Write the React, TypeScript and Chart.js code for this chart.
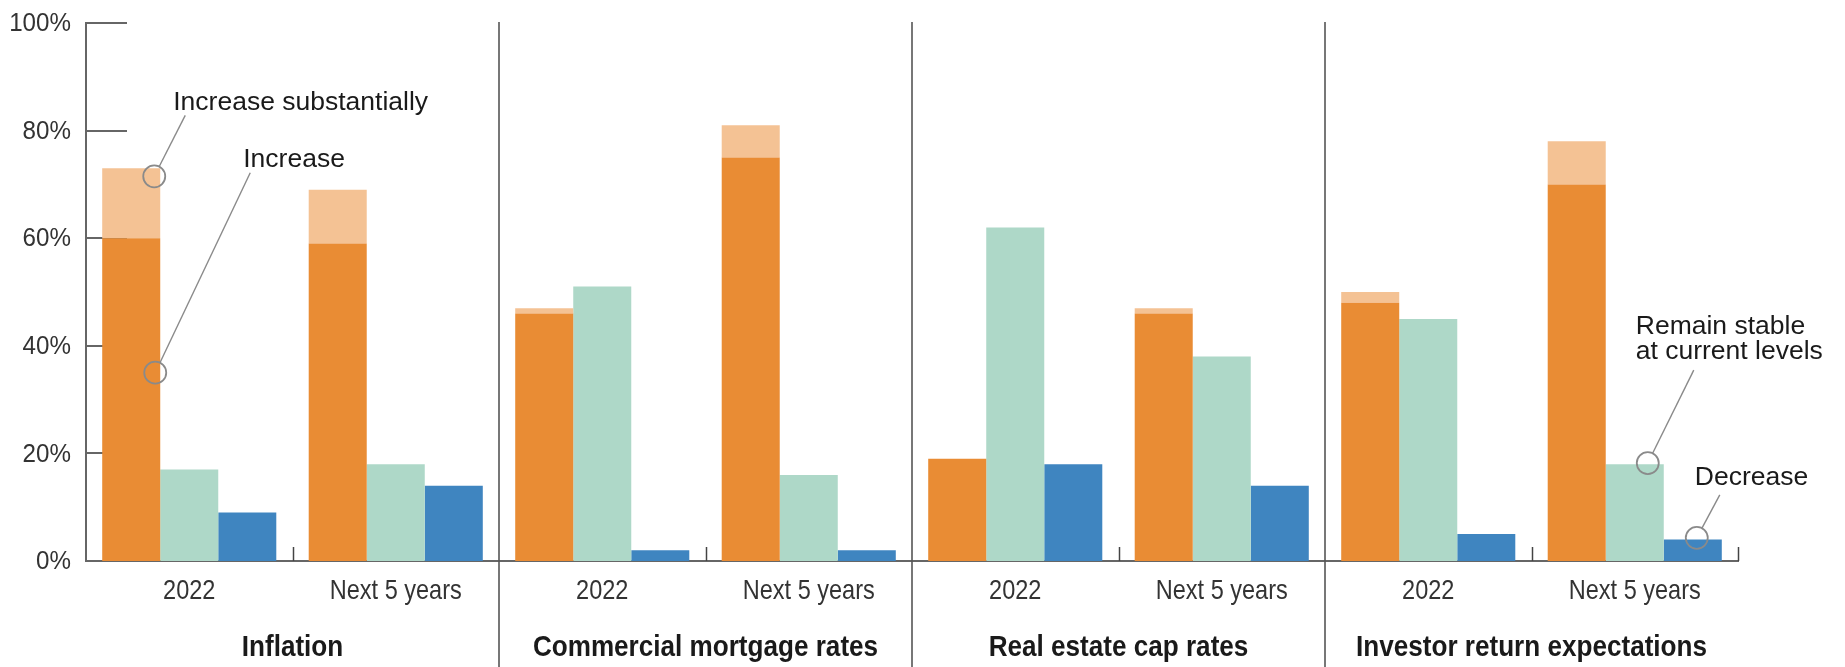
import React, { useEffect, useRef } from "react";
import { Chart, registerables } from "chart.js";

Chart.register(...registerables);

const categories = ["2022", "Next 5 years", "2022", "Next 5 years", "2022", "Next 5 years", "2022", "Next 5 years"];
const groups = ["Inflation", "Commercial mortgage rates", "Real estate cap rates", "Investor return expectations"];
const increase = [60, 59, 46, 75, 19, 46, 48, 70];
const increaseSubstantially = [13, 10, 1, 6, 0, 1, 2, 8];
const remainStable = [17, 18, 51, 16, 62, 38, 45, 18];
const decrease = [9, 14, 2, 2, 18, 14, 5, 4];
const yTicks = [0, 20, 40, 60, 80, 100];

const REG = "'Liberation Sans', Arial, sans-serif";
const AXIS = "#666666";

// draws text horizontally condensed (the reference uses a condensed face)
function condText(ctx: any, text: string, x: number, y: number, sx: number, align: string) {
  ctx.save();
  ctx.translate(x, y);
  ctx.scale(sx, 1);
  ctx.textAlign = align;
  ctx.textBaseline = "middle";
  ctx.fillText(text, 0, 0);
  ctx.restore();
}

const overlayPlugin = {
  id: "overlay",
  beforeDatasetsDraw(chart: any) {
    const { ctx, chartArea, scales } = chart;
    const y = scales.y;
    ctx.save();
    ctx.strokeStyle = AXIS;
    ctx.lineWidth = 2;
    yTicks.forEach((v) => {
      const py = Math.round(y.getPixelForValue(v));
      ctx.beginPath();
      ctx.moveTo(chartArea.left, py);
      ctx.lineTo(chartArea.left + 41, py);
      ctx.stroke();
    });
    ctx.restore();
  },
  afterDatasetsDraw(chart: any) {
    const { ctx, chartArea, scales } = chart;
    const y = scales.y;
    const x = scales.x;
    const x2 = scales.x2;
    const n = categories.length;
    const step = x.getPixelForValue(1) - x.getPixelForValue(0);
    ctx.save();
    // boundary ticks (inward)
    ctx.strokeStyle = "#444444";
    ctx.lineWidth = 1.5;
    for (let i = 1; i <= n; i++) {
      const px = Math.round(x.getPixelForValue(i - 1) + step / 2) + 0.5;
      if (i % 2 === 1 || i === n) {
        ctx.beginPath();
        ctx.moveTo(px, chartArea.bottom);
        ctx.lineTo(px, chartArea.bottom - 14);
        ctx.stroke();
      }
    }
    // group dividers
    ctx.strokeStyle = "#555555";
    ctx.lineWidth = 1.6;
    for (let g = 1; g < groups.length; g++) {
      const px = Math.round(x.getPixelForValue(2 * g - 1) + step / 2);
      ctx.beginPath();
      ctx.moveTo(px, chartArea.top - 1);
      ctx.lineTo(px, chart.height);
      ctx.stroke();
    }

    // axis labels (condensed)
    ctx.fillStyle = "#333333";
    ctx.font = `26px ${REG}`;
    y.ticks.forEach((t: any) => {
      condText(ctx, t.value + "%", chartArea.left - 15, y.getPixelForValue(t.value) + 1, 0.93, "right");
    });
    ctx.font = `28px ${REG}`;
    categories.forEach((c, i) => {
      condText(ctx, c, x.getPixelForValue(i), chartArea.bottom + 30, 0.84, "center");
    });
    ctx.fillStyle = "#1a1a1a";
    ctx.font = `bold 30px ${REG}`;
    groups.forEach((g, i) => {
      condText(ctx, g, x2.getPixelForValue(i), chartArea.bottom + 87, 0.87, "center");
    });

    // annotations
    const bar = (ds: number, i: number) => chart.getDatasetMeta(ds).data[i];
    const drawCallout = (cx: number, cy: number, tx: number, ty: number) => {
      const r = 11;
      const dx = tx - cx, dy = ty - cy;
      const len = Math.sqrt(dx * dx + dy * dy);
      ctx.strokeStyle = "#8a8a8a";
      ctx.lineWidth = 1.8;
      ctx.beginPath();
      ctx.arc(cx, cy, r, 0, Math.PI * 2);
      ctx.stroke();
      ctx.lineWidth = 1.4;
      ctx.beginPath();
      ctx.moveTo(cx + (dx / len) * r, cy + (dy / len) * r);
      ctx.lineTo(tx, ty);
      ctx.stroke();
    };
    ctx.fillStyle = "#1a1a1a";
    ctx.font = `26.5px ${REG}`;
    ctx.textAlign = "left";
    ctx.textBaseline = "middle";

    const b0 = bar(0, 0);
    const c1x = b0.x + b0.width / 2 - 6;
    const c1y = y.getPixelForValue(71.5);
    drawCallout(c1x, c1y, c1x + 31, c1y - 61);
    ctx.fillText("Increase substantially", c1x + 19, c1y - 74);

    const c2x = b0.x + b0.width / 2 - 5;
    const c2y = y.getPixelForValue(35);
    drawCallout(c2x, c2y, c2x + 95, c2y - 200);
    ctx.fillText("Increase", c2x + 88, c2y - 213);

    const b3 = bar(2, 7);
    const c3x = b3.x + b3.width / 2 - 16;
    const c3y = y.getPixelForValue(18.2);
    drawCallout(c3x, c3y, c3x + 46, c3y - 93);
    ctx.fillText("Remain stable", c3x - 12, c3y - 136);
    ctx.fillText("at current levels", c3x - 12, c3y - 111);

    const b4 = bar(3, 7);
    const c4x = b4.x + 4;
    const c4y = y.getPixelForValue(4.3);
    drawCallout(c4x, c4y, c4x + 23, c4y - 43);
    ctx.fillText("Decrease", c4x - 2, c4y - 60);
    ctx.restore();
  },
};

export default function App() {
  const ref = useRef<HTMLCanvasElement>(null);
  useEffect(() => {
    document.body.style.margin = "0";
    const chart = new Chart(ref.current!, {
      type: "bar",
      data: {
        labels: categories,
        datasets: [
          { label: "Increase", data: increase, backgroundColor: "#E98C34", stack: "inc" },
          { label: "Increase substantially", data: increaseSubstantially, backgroundColor: "#F4C294", stack: "inc" },
          { label: "Remain stable at current levels", data: remainStable, backgroundColor: "#AED8C8", stack: "stable" },
          { label: "Decrease", data: decrease, backgroundColor: "#3F85C0", stack: "dec" },
        ],
      },
      options: {
        responsive: false,
        animation: false,
        events: [],
        datasets: { bar: { categoryPercentage: 0.843, barPercentage: 1, borderWidth: 0 } },
        layout: { padding: { top: 23, right: 107, left: 0, bottom: 0 } },
        plugins: { legend: { display: false }, tooltip: { enabled: false } },
        scales: {
          x: {
            type: "category",
            offset: true,
            grid: { display: false, drawTicks: false },
            border: { display: true, color: AXIS, width: 2 },
            ticks: { display: false, autoSkip: false, maxRotation: 0 },
            afterFit: (s: any) => { s.height = 52; },
          },
          x2: {
            type: "category",
            position: "bottom",
            labels: groups,
            offset: true,
            grid: { display: false, drawTicks: false },
            border: { display: false },
            ticks: { display: false, autoSkip: false, maxRotation: 0 },
            afterFit: (s: any) => { s.height = 54; },
          },
          y: {
            stacked: true,
            min: 0,
            max: 100,
            grid: { display: false, drawTicks: false },
            border: { display: true, color: AXIS, width: 2 },
            ticks: { display: false, stepSize: 20, callback: (v: any) => v + "%" },
            afterFit: (s: any) => { s.width = 86; },
          },
        },
      },
      plugins: [overlayPlugin],
    } as any);
    return () => chart.destroy();
  }, []);
  return (
    <div style={{ position: "fixed", left: 0, top: 0, width: 1845, height: 667, background: "#fff" }}>
      <canvas ref={ref} width={1845} height={667} style={{ display: "block" }} />
    </div>
  );
}
